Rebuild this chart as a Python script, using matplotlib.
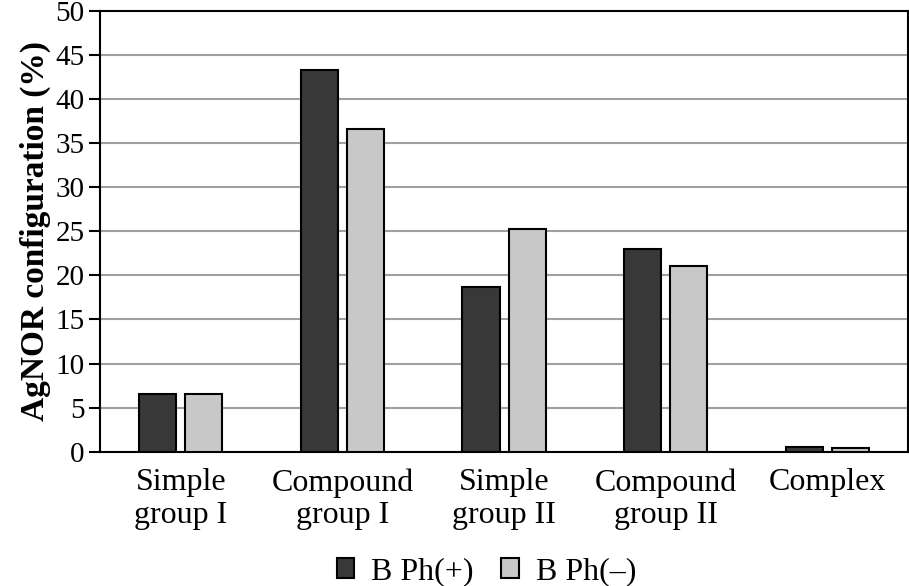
import numpy as np
import matplotlib.pyplot as plt

categories = ["Simple\ngroup I", "Compound\ngroup I", "Simple\ngroup II",
              "Compound\ngroup II", "Complex"]
bph_plus = [6.5, 43.3, 18.7, 23.0, 0.5]
bph_minus = [6.5, 36.6, 25.3, 21.1, 0.4]

plt.rcParams['font.family'] = ['Liberation Serif', 'DejaVu Serif']

fig = plt.figure(figsize=(9.09, 5.86), dpi=100)
ax = fig.add_axes([0.110, 0.229, 0.889, 0.753])

x = np.arange(len(categories))
w = 0.23
ax.bar(x - 0.143, bph_plus, w, color='#383838', edgecolor='black', linewidth=1.5,
       label='B Ph(+)', zorder=3)
ax.bar(x + 0.143, bph_minus, w, color='#c8c8c8', edgecolor='black', linewidth=1.5,
       label='B Ph(\u2013)', zorder=3)

ax.set_xlim(-0.5, 4.5)
ax.set_ylim(0, 50)
ax.set_yticks(range(0, 51, 5))
ax.yaxis.grid(True, color='#a0a0a0', linewidth=1.5, zorder=0)
ax.set_xticks(x)
ax.set_xticklabels(categories, fontsize=23, linespacing=1.15)
ax.tick_params(axis='x', length=0, pad=12)
ax.tick_params(axis='y', labelsize=21, length=8, width=1.5, direction='out', pad=3)
for s in ax.spines.values():
    s.set_linewidth(1.5)
ax.set_ylabel('AgNOR configuration (%)', fontsize=24, fontweight='bold', labelpad=3)

ax.legend(loc='center', bbox_to_anchor=(0.478, -0.272), ncol=2, frameon=False,
          fontsize=23, handlelength=0.56, handleheight=0.56, handletextpad=0.53,
          columnspacing=0.84, borderaxespad=0)

fig.savefig('out.png', dpi=100)
